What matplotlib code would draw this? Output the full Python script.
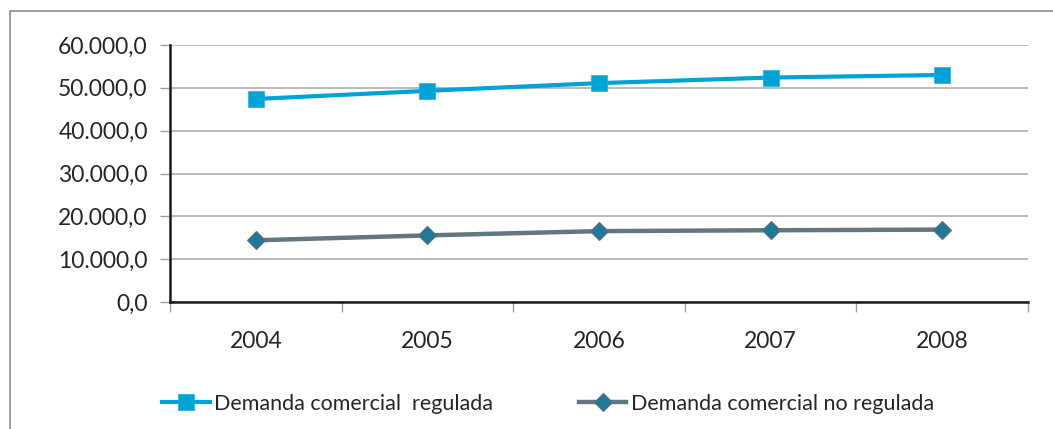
import numpy as np
import matplotlib.pyplot as plt
from matplotlib.patches import Rectangle
from matplotlib.ticker import FuncFormatter

years = ['2004', '2005', '2006', '2007', '2008']
regulada = [47400, 49300, 51100, 52400, 53000]
no_regulada = [14400, 15550, 16550, 16750, 16900]


def fmt_miles(v, pos):
    # formato español: 60.000,0
    s = f"{v:,.1f}"
    return s.replace(',', 'X').replace('.', ',').replace('X', '.')


def main():
    plt.rcParams['font.family'] = ['Lato', 'DejaVu Sans']

    fig = plt.figure(figsize=(10.53, 4.29), dpi=100)
    W, H = 1053, 429
    ax = fig.add_axes([170 / W, 1 - 302 / H, (1028 - 170) / W, (302 - 45) / H])

    # marco exterior del gráfico
    fig.patches.append(Rectangle((10 / W, -0.1), 1.2, 1 - 11 / H + 0.1,
                                 transform=fig.transFigure, fill=False,
                                 edgecolor='#8c8c8c', linewidth=1.2))

    x = np.arange(len(years))
    ax.plot(x, regulada, color='#00A3D6', linewidth=3, marker='s',
            markersize=12, markerfacecolor='#00A3D6', markeredgecolor='#1AB0E0',
            markeredgewidth=0.5, label='Demanda comercial  regulada', zorder=3)
    ax.plot(x, no_regulada, color='#62777F', linewidth=3.2, marker='D',
            markersize=9, markerfacecolor='#1F7A99', markeredgecolor='#5E6F76',
            markeredgewidth=0.8, label='Demanda comercial no regulada', zorder=3)

    ax.set_xlim(-0.5, len(years) - 0.5)
    ax.set_ylim(0, 60000)
    ax.set_yticks(np.arange(0, 60001, 10000))
    ax.yaxis.set_major_formatter(FuncFormatter(fmt_miles))
    ax.set_xticks(x)
    ax.set_xticklabels(years)
    ax.set_xticks(np.arange(-0.5, len(years), 1.0), minor=True)

    ax.tick_params(axis='x', which='major', length=0, pad=21, labelsize=16.5,
                   labelcolor='#262626')
    ax.tick_params(axis='x', which='minor', length=7, width=1, color='#a0a0a0',
                   direction='out')
    ax.tick_params(axis='y', length=7, width=1, color='#a0a0a0', pad=9,
                   labelsize=16.5, labelcolor='#262626')

    ax.grid(axis='y', color='#b4b4b4', linewidth=1.3)
    ax.set_axisbelow(True)
    for side in ['top', 'right']:
        ax.spines[side].set_visible(False)
    for side in ['left', 'bottom']:
        ax.spines[side].set_color('#1a1a1a')
        ax.spines[side].set_linewidth(1.8)

    fig.legend(loc='center', bbox_to_anchor=(548 / W, 1 - 404 / H), ncol=2,
               frameon=False, fontsize=15.5, handlelength=2.2, handletextpad=0.2,
               columnspacing=4.0, labelcolor='#262626')

    plt.savefig('out.png', dpi=100)


if __name__ == "__main__":
    main()
